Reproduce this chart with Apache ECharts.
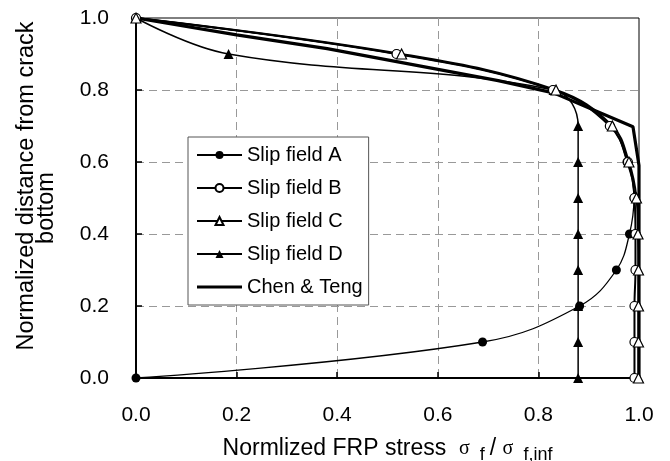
<!DOCTYPE html>
<html>
<head>
<meta charset="utf-8">
<script src="https://cdn.jsdelivr.net/npm/echarts@6/dist/echarts.min.js"></script>
<style>
  html, body { margin: 0; padding: 0; background: #fff; }
  #chart { width: 670px; height: 461px; }
</style>
</head>
<body>
<div id="chart"></div>
<script>
// normalized distance from crack bottom, shared by the four slip fields
const heights = [0, 0.1, 0.2, 0.3, 0.4, 0.5, 0.6, 0.7, 0.8, 0.9, 1.0];

// normalized FRP stress, one value per height
const slipA = [0, 0.689, 0.882, 0.955, 0.981, 0.99, 0.976, 0.943, 0.829, 0.518, 0];
const slipB = [0.991, 0.991, 0.991, 0.993, 0.993, 0.991, 0.978, 0.942, 0.829, 0.518, 0];
const slipC = [0.999, 0.999, 0.999, 0.999, 0.998, 0.995, 0.98, 0.947, 0.835, 0.528, 0];
const slipD = [0.879, 0.879, 0.879, 0.879, 0.879, 0.879, 0.879, 0.879, 0.83, 0.184, 0];

// Chen & Teng model curve
const chenX = [0, 0.2, 0.38, 0.72, 0.83, 0.988, 1.0, 1.0];
const chenY = [1.0, 0.953, 0.915, 0.826, 0.792, 0.698, 0.59, 0];

const legendNames = ['Slip field A', 'Slip field B', 'Slip field C', 'Slip field D', 'Chen & Teng'];

const pairs = (xs, ys) => xs.map((x, i) => [x, ys[i]]);

const chart = echarts.init(document.getElementById('chart'));

const axisCommon = {
  type: 'value',
  min: 0,
  max: 1,
  interval: 0.2,
  axisLine: { lineStyle: { color: '#000', width: 2 } },
  axisTick: { inside: true, length: 6, lineStyle: { color: '#000', width: 1.5 } },
  axisLabel: { fontSize: 21, color: '#000', formatter: v => v.toFixed(1) },
  splitLine: {
    show: true,
    showMinLine: false,
    showMaxLine: false,
    lineStyle: { color: '#999', width: 1, type: [8, 5] }
  }
};

// plain line as legend icon for the model curve (no marker)
const legendData = legendNames.map(n =>
  n === 'Chen & Teng' ? { name: n, icon: 'path://M0,0L45,0L45,3.2L0,3.2Z' } : n
);

const option = {
  animation: false,
  backgroundColor: '#fff',
  textStyle: { fontFamily: 'Liberation Sans, Arial, sans-serif' },
  grid: {
    left: 136, right: 31, top: 18, bottom: 83,
    outerBoundsMode: 'none',
    containLabel: false,
    show: true, borderColor: '#000', borderWidth: 1, backgroundColor: 'transparent'
  },
  legend: {
    data: legendData,
    orient: 'vertical',
    left: 188,
    top: 137,
    itemWidth: 45,
    itemHeight: 10,
    itemGap: 13,
    padding: [8, 6, 8, 8],
    backgroundColor: '#fff',
    borderColor: '#555',
    borderWidth: 1,
    textStyle: { fontSize: 20, color: '#000' }
  },
  xAxis: Object.assign({}, axisCommon, {
    axisLabel: Object.assign({}, axisCommon.axisLabel, { margin: 27 }),
    name: '{t|Normlized FRP stress  }{g|σ}{s|  f }{t|/ }{g|σ}{s|  f,inf}',
    nameLocation: 'middle',
    nameGap: 56,
    nameTextStyle: {
      rich: {
        t: { fontSize: 23, color: '#000', lineHeight: 30, fontFamily: 'Liberation Sans' },
        g: { fontSize: 20, color: '#000', lineHeight: 30, fontFamily: 'Liberation Serif' },
        s: { fontSize: 18, color: '#000', verticalAlign: 'bottom', fontFamily: 'Liberation Sans' }
      }
    }
  }),
  yAxis: Object.assign({}, axisCommon, {
    axisLabel: Object.assign({}, axisCommon.axisLabel, { margin: 27 }),
    name: '{a|Normalized distance from crack}\n{b|bottom}',
    nameLocation: 'middle',
    nameGap: 79,
    nameTextStyle: {
      align: 'center',
      rich: {
        a: { fontSize: 23.5, lineHeight: 20, color: '#000', padding: [0, 0, 0, 24] },
        b: { fontSize: 23.5, lineHeight: 20, color: '#000', padding: [0, 20, 0, 0] }
      }
    }
  }),
  series: [
    {
      name: 'Chen & Teng',
      type: 'line',
      data: pairs(chenX, chenY),
      symbol: 'none',
      lineStyle: { color: '#000', width: 3.2 },
      itemStyle: { color: '#000' }
    },
    {
      name: 'Slip field A',
      type: 'line',
      smooth: 0.4,
      data: pairs(slipA, heights),
      symbol: 'circle',
      symbolSize: 9,
      lineStyle: { color: '#000', width: 1.3 },
      itemStyle: { color: '#000' }
    },
    {
      name: 'Slip field D',
      type: 'line',
      smooth: 0.4,
      data: pairs(slipD, heights),
      symbol: 'triangle',
      symbolSize: 10,
      lineStyle: { color: '#000', width: 1.5 },
      itemStyle: { color: '#000' }
    },
    {
      name: 'Slip field B',
      type: 'line',
      smooth: 0.4,
      data: pairs(slipB, heights),
      symbol: 'circle',
      symbolSize: 9,
      lineStyle: { color: '#000', width: 2 },
      itemStyle: { color: '#fff', borderColor: '#000', borderWidth: 1.2 }
    },
    {
      name: 'Slip field C',
      type: 'line',
      smooth: 0.4,
      data: pairs(slipC, heights),
      symbol: 'triangle',
      symbolSize: 10,
      lineStyle: { color: '#000', width: 2 },
      itemStyle: { color: '#fff', borderColor: '#000', borderWidth: 1.2 }
    }
  ]
};

chart.setOption(option);
</script>
</body>
</html>
